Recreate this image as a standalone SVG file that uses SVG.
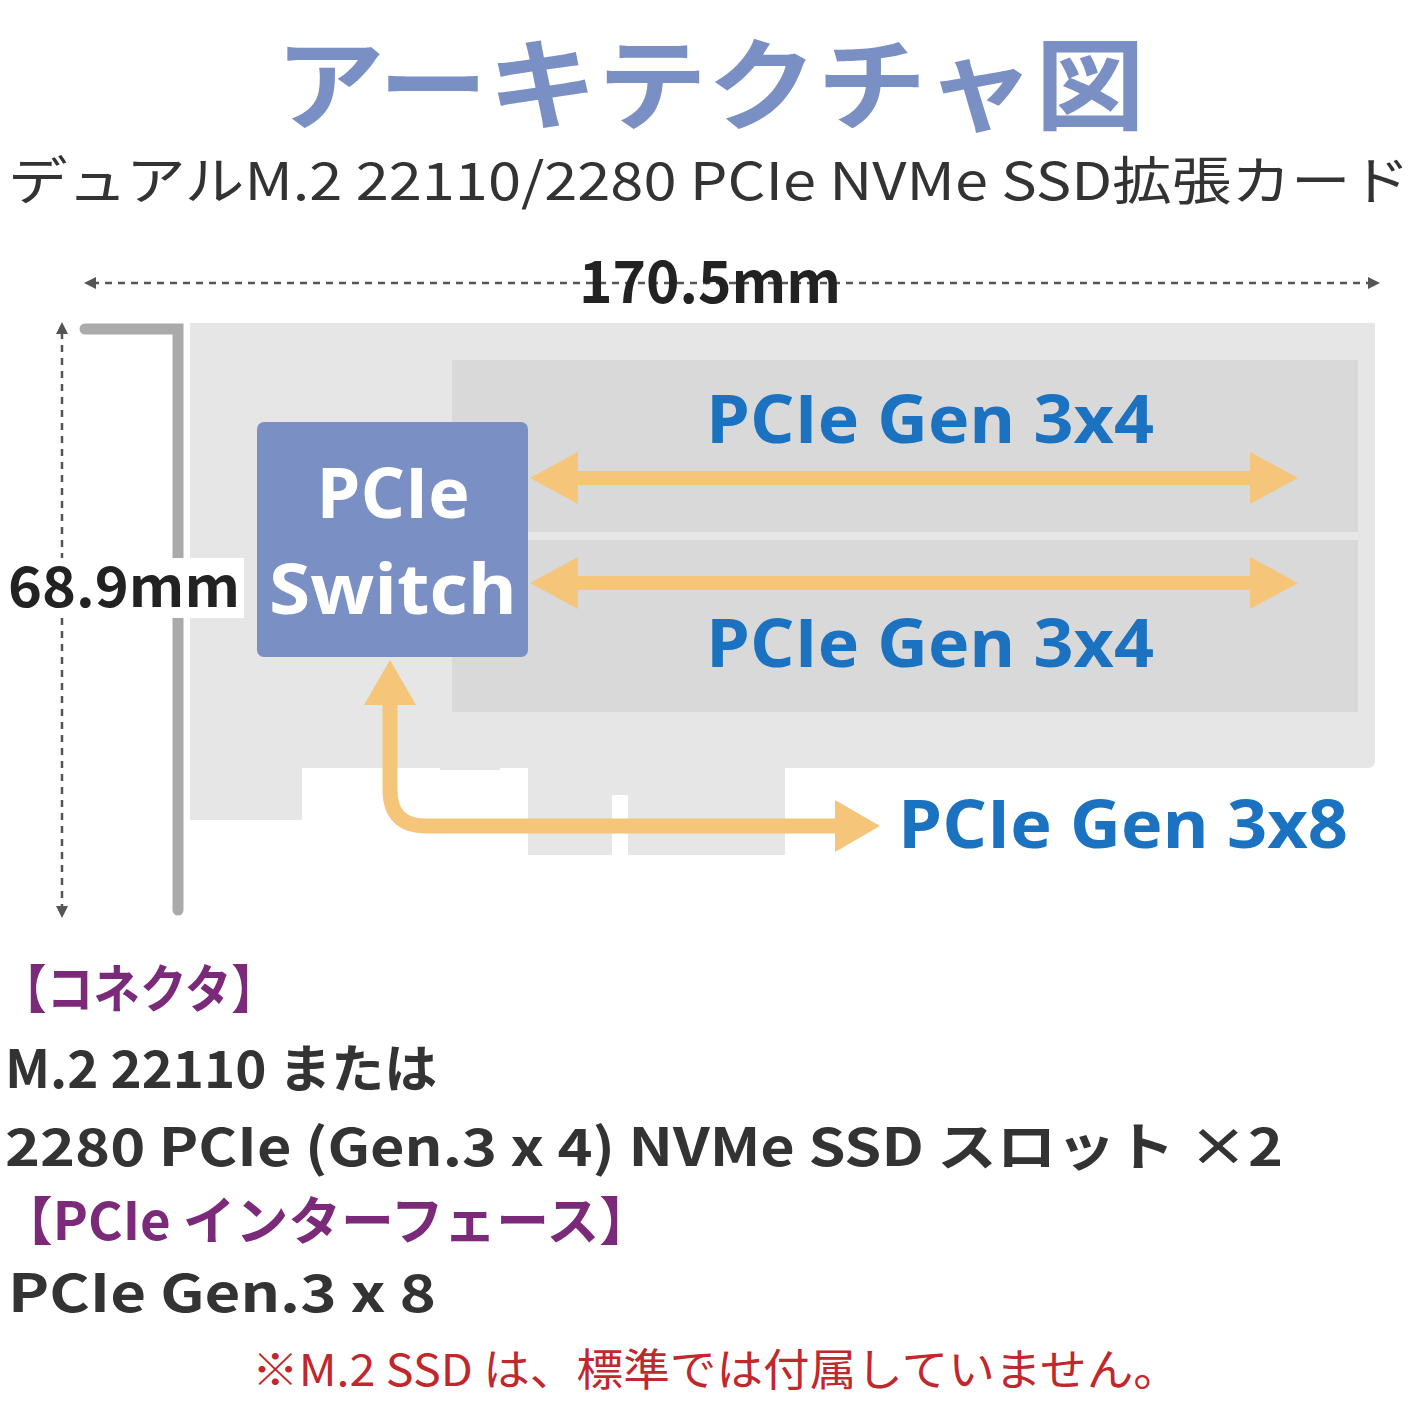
<svg xmlns="http://www.w3.org/2000/svg" width="1416" height="1416" viewBox="0 0 1416 1416">
<style>
.jp{font-family:"Noto Sans CJK JP","Noto Sans",sans-serif}
.b{font-weight:bold}
.dim{stroke:#555;stroke-width:2.5;stroke-dasharray:7 6;fill:none}
.blue{fill:#1a72c0;font-family:"Open Sans","Noto Sans",sans-serif;font-weight:bold;font-size:66px}
.arr{fill:#f5c57a}
.body{fill:#333;font-size:52px}
.pur{fill:#7b2a7a;font-size:52px}
</style>
<rect width="1416" height="1416" fill="#fff"/>
<text class="jp b" x="710" y="122" text-anchor="middle" font-size="100" fill="#7a90c4" textLength="870" lengthAdjust="spacingAndGlyphs">アーキテクチャ図</text>
<text class="jp" x="8" y="200" font-size="52" fill="#333" textLength="1402" lengthAdjust="spacingAndGlyphs">デュアルM.2 22110/2280 PCIe NVMe SSD拡張カード</text>
<g id="card">
<path d="M190 323 H1375 V760 Q1375 768 1367 768 H785 V855 H628 V795 H612 V855 H528 V768 H500 V770 H440 V768 H302 V820 H190 Z" fill="#e6e6e6"/>
<rect x="452" y="360" width="906" height="172" fill="#d9d9d9"/>
<rect x="452" y="540" width="906" height="172" fill="#d9d9d9"/>
<path d="M85 329 H178 V910" stroke="#aaa" stroke-width="11" fill="none" stroke-linecap="round"/>
</g>
<g id="dims">
<line class="dim" x1="92" y1="283" x2="1372" y2="283"/>
<path d="M84 283 L96 277 L96 289Z M1380 283 L1368 277 L1368 289Z" fill="#555"/>
<rect x="580" y="262" width="262" height="18" fill="#fff"/>
<text class="jp b" x="710" y="303" text-anchor="middle" font-size="58" fill="#222" textLength="262" lengthAdjust="spacingAndGlyphs">170.5mm</text>
<line class="dim" x1="62" y1="332" x2="62" y2="908"/>
<path d="M62 322 L56 334 L68 334Z M62 918 L56 906 L68 906Z" fill="#555"/>
<rect x="6" y="558" width="238" height="60" fill="#fff"/>
<text class="jp b" x="8" y="607" font-size="56" fill="#222" textLength="232" lengthAdjust="spacingAndGlyphs">68.9mm</text>
</g>
<g id="switch">
<rect x="257" y="422" width="271" height="235" rx="7" fill="#7a90c4"/>
<text x="393" y="518" text-anchor="middle" font-family="Open Sans,sans-serif" font-weight="bold" font-size="70" fill="#fff">PCIe</text>
<text x="393" y="614" text-anchor="middle" font-family="Open Sans,sans-serif" font-weight="bold" font-size="70" fill="#fff" textLength="248" lengthAdjust="spacingAndGlyphs">Switch</text>
</g>
<g id="connectors">
<path class="arr" d="M530 478 L578 452 L578 471 L1250 471 L1250 452 L1298 478 L1250 504 L1250 485 L578 485 L578 504Z"/>
<path class="arr" d="M530 583 L578 557 L578 576 L1250 576 L1250 557 L1298 583 L1250 609 L1250 590 L578 590 L578 609Z"/>
<path d="M390 705 V790 Q390 826 426 826 H840" stroke="#f5c57a" stroke-width="15" fill="none"/>
<path class="arr" d="M390 660 L364 705 L416 705Z M880 826 L835 800 L835 852Z"/>
</g>
<g id="labels">
<text class="blue" x="930" y="443" text-anchor="middle" textLength="448" lengthAdjust="spacingAndGlyphs">PCIe Gen 3x4</text>
<text class="blue" x="930" y="667" text-anchor="middle" textLength="448" lengthAdjust="spacingAndGlyphs">PCIe Gen 3x4</text>
<text class="blue" x="898" y="848" textLength="450" lengthAdjust="spacingAndGlyphs">PCIe Gen 3x8</text>
</g>
<g id="notes" class="jp b">
<text class="pur" x="0" y="1008" textLength="278" lengthAdjust="spacingAndGlyphs">【コネクタ】</text>
<text class="body" x="5" y="1088" textLength="432" lengthAdjust="spacingAndGlyphs">M.2 22110 または</text>
<text class="body" x="5" y="1166" textLength="1278" lengthAdjust="spacingAndGlyphs">2280 PCIe (Gen.3 x 4) NVMe SSD スロット ×2</text>
<text class="pur" x="0" y="1240" textLength="652" lengthAdjust="spacingAndGlyphs">【PCIe インターフェース】</text>
<text class="body" x="8" y="1312" textLength="428" lengthAdjust="spacingAndGlyphs">PCIe Gen.3 x 8</text>
</g>
<text class="jp" x="252" y="1386" font-size="44" fill="#c0282d" textLength="928" lengthAdjust="spacingAndGlyphs">※M.2 SSD は、標準では付属していません。</text>
</svg>
